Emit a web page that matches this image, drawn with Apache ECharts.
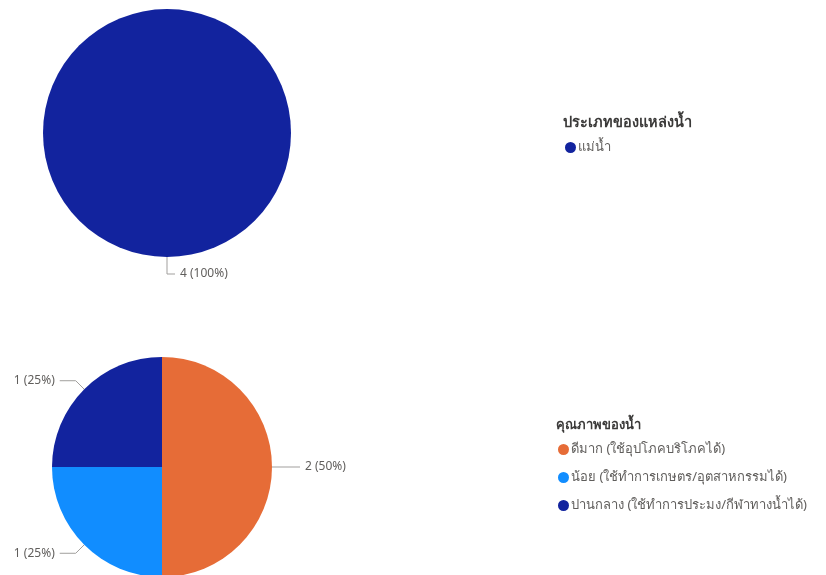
<!DOCTYPE html>
<html><head><meta charset="utf-8">
<script src="https://cdn.jsdelivr.net/npm/echarts@6/dist/echarts.min.js"></script>
<style>html,body{margin:0;padding:0;background:#fff}#c{width:826px;height:575px}</style>
</head><body><div id="c"></div>
<script>
const sourceTitle = 'ประเภทของแหล่งน้ำ';
const sourceCats = ['แม่น้ำ'];
const sourceVals = [4];
const sourceColors = ['#12239E'];

const qualityTitle = 'คุณภาพของน้ำ';
const qualityCats = ['ดีมาก (ใช้อุปโภคบริโภคได้)', 'น้อย (ใช้ทำการเกษตร/อุตสาหกรรมได้)', 'ปานกลาง (ใช้ทำการประมง/กีฬาทางน้ำได้)'];
const qualityVals = [2, 1, 1];
const qualityColors = ['#E66C37', '#118DFF', '#12239E'];

const FONT = "'Noto Sans', 'DejaVu Sans', sans-serif";
const chart = echarts.init(document.getElementById('c'));
const mk = (cats, vals, cols) => cats.map((n, i) => ({name: n, value: vals[i], itemStyle: {color: cols[i]}}));
const labelCfg = {show: true, formatter: '{c} ({d}%)', fontSize: 12, color: '#605E5C', fontFamily: FONT};
chart.setOption({
  animation: false,
  title: [
    {text: sourceTitle, left: 558, top: 110, textStyle: {fontSize: 14.5, fontWeight: 'bold', color: '#3B3A39', fontFamily: FONT}},
    {text: qualityTitle, left: 551, top: 414, textStyle: {fontSize: 13, fontWeight: 'bold', color: '#3B3A39', fontFamily: FONT}}
  ],
  legend: [
    {data: sourceCats, left: 560, top: 136, orient: 'vertical', icon: 'circle', itemWidth: 11, itemHeight: 11, itemGap: 15,
     textStyle: {fontSize: 13, color: '#605E5C', fontFamily: FONT, padding: [0, 0, 0, -3]}, selectedMode: false},
    {data: qualityCats, left: 553, top: 438, orient: 'vertical', icon: 'circle', itemWidth: 11, itemHeight: 11, itemGap: 15,
     textStyle: {fontSize: 13, color: '#605E5C', fontFamily: FONT, padding: [0, 0, 0, -3]}, selectedMode: false}
  ],
  series: [
    {type: 'pie', center: [167, 133], radius: 124, startAngle: 90, clockwise: true,
     data: mk(sourceCats, sourceVals, sourceColors), label: labelCfg,
     labelLine: {show: true, length: 17, length2: 8, lineStyle: {color: '#A19F9D', width: 1}},
     itemStyle: {borderWidth: 0}, emphasis: {disabled: true}},
    {type: 'pie', center: [162, 467], radius: 110, startAngle: 90, clockwise: true,
     data: mk(qualityCats, qualityVals, qualityColors), label: labelCfg,
     labelLine: {show: true, length: 12, length2: 16, lineStyle: {color: '#A19F9D', width: 1}},
     itemStyle: {borderWidth: 0}, emphasis: {disabled: true}}
  ]
});
</script></body></html>
